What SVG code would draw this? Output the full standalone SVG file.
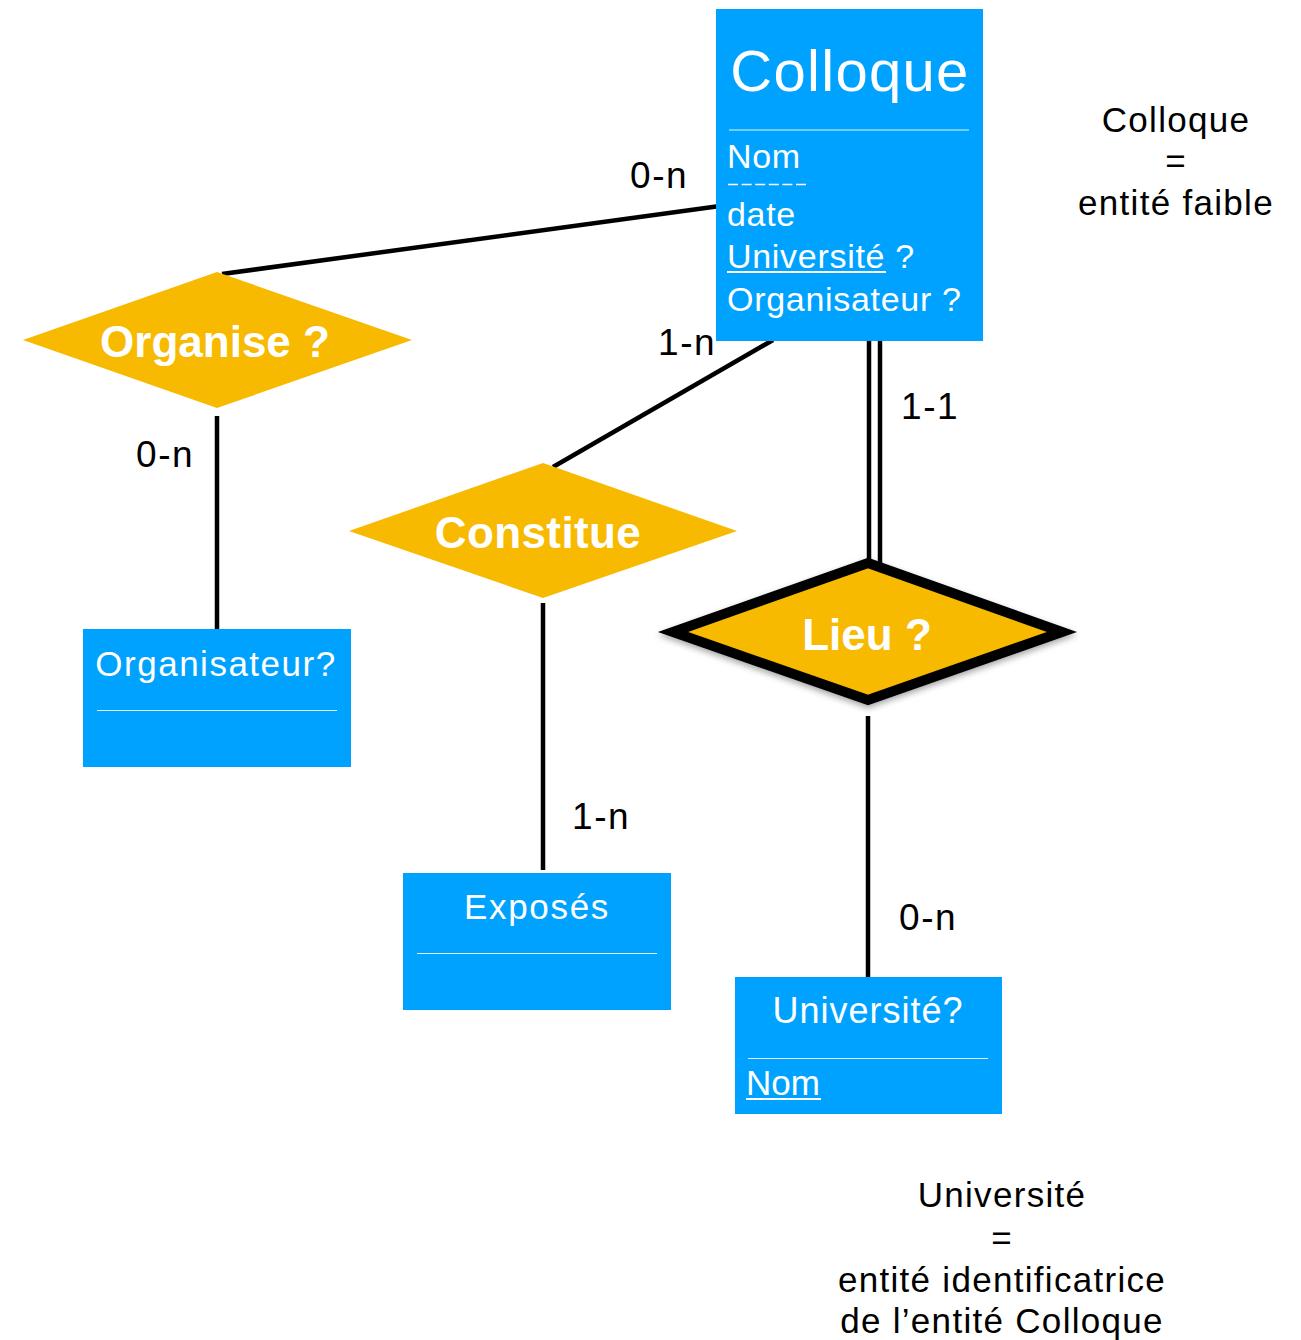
<svg xmlns="http://www.w3.org/2000/svg" width="1301" height="1340" viewBox="0 0 1301 1340">
  <defs>
    <style>
      .ent { fill: #00A2FF; }
      .rel { fill: #F7BA00; }
      .conn { stroke: #000; stroke-width: 4.5; fill: none; }
      .sep { stroke: #ffffff; stroke-width: 1.2; opacity: 0.9; }
      .wt { fill: #ffffff; font-family: "Liberation Sans", Arial, sans-serif; }
      .rt { fill: #ffffff; font-family: "Liberation Sans", Arial, sans-serif; font-weight: bold; font-size: 44px; text-anchor: middle; }
      .lbl { fill: #000; font-family: "Liberation Sans", Arial, sans-serif; font-size: 37px; letter-spacing: 1.6px; }
      .note { fill: #000; font-family: "Liberation Sans", Arial, sans-serif; font-size: 35px; letter-spacing: 1.3px; text-anchor: middle; }
    </style>
    <filter id="shadow" x="-20%" y="-30%" width="140%" height="160%">
      <feDropShadow dx="0" dy="3" stdDeviation="3" flood-color="#000" flood-opacity="0.35"/>
    </filter>
  </defs>

  <rect width="1301" height="1340" fill="#ffffff"/>

  <g id="connectors">
    <line class="conn" x1="222" y1="274" x2="720" y2="206"/>
    <line class="conn" x1="217" y1="416" x2="217" y2="629"/>
    <line class="conn" x1="553" y1="467" x2="773" y2="340"/>
    <line class="conn" x1="543" y1="603" x2="543" y2="870"/>
    <line class="conn" x1="869" y1="336" x2="869" y2="568"/>
    <line class="conn" x1="880" y1="336" x2="880" y2="568"/>
    <line class="conn" x1="868" y1="716" x2="868" y2="977"/>
    <text class="lbl" x="630" y="188">0-n</text>
    <text class="lbl" x="658" y="355">1-n</text>
    <text class="lbl" x="901" y="419">1-1</text>
    <text class="lbl" x="136" y="467">0-n</text>
    <text class="lbl" x="572" y="829">1-n</text>
    <text class="lbl" x="899" y="930">0-n</text>
  </g>

  <g id="colloque">
    <rect class="ent" x="716" y="9" width="267" height="332"/>
    <text class="wt" x="850" y="91" font-size="58" letter-spacing="1.3" text-anchor="middle">Colloque</text>
    <line class="sep" x1="729" y1="130" x2="969" y2="130"/>
    <text class="wt" x="727" y="168" font-size="34" letter-spacing="0.7">Nom</text>
    <line x1="728" y1="184.5" x2="806" y2="184.5" stroke="#fff" stroke-width="1.5" stroke-dasharray="10,3.6"/>
    <text class="wt" x="727" y="226" font-size="34" letter-spacing="0.7">date</text>
    <text class="wt" x="727" y="268" font-size="34" letter-spacing="0.7">Université ?</text>
    <line x1="727" y1="272" x2="886" y2="272" stroke="#fff" stroke-width="2"/>
    <text class="wt" x="727" y="311" font-size="34" letter-spacing="0.7">Organisateur ?</text>
  </g>

  <g id="organise">
    <polygon class="rel" points="217,272 412,340 217,408 23,340"/>
    <text class="rt" x="215" y="357">Organise ?</text>
  </g>

  <g id="constitue">
    <polygon class="rel" points="543,463 737,531 543,598 349,531"/>
    <text class="rt" x="538" y="548" letter-spacing="0.4">Constitue</text>
  </g>

  <g id="lieu">
    <polygon class="rel" points="868,563 1062,632 868,700 673,632" stroke="#000" stroke-width="10" stroke-linejoin="miter" stroke-miterlimit="10" filter="url(#shadow)"/>
    <text class="rt" x="867" y="650">Lieu ?</text>
  </g>

  <g id="organisateur">
    <rect class="ent" x="83" y="629" width="268" height="138"/>
    <text class="wt" x="216" y="676" font-size="35" letter-spacing="1.5" text-anchor="middle">Organisateur?</text>
    <line class="sep" x1="97" y1="710.5" x2="337" y2="710.5"/>
  </g>

  <g id="exposes">
    <rect class="ent" x="403" y="873" width="268" height="137"/>
    <text class="wt" x="537" y="919" font-size="35" letter-spacing="1.7" text-anchor="middle">Exposés</text>
    <line class="sep" x1="417" y1="953.5" x2="657" y2="953.5"/>
  </g>

  <g id="universite">
    <rect class="ent" x="735" y="977" width="267" height="137"/>
    <text class="wt" x="868" y="1023" font-size="36" letter-spacing="1" text-anchor="middle">Université?</text>
    <line class="sep" x1="748" y1="1058.5" x2="988" y2="1058.5"/>
    <text class="wt" x="746" y="1095" font-size="35">Nom</text>
    <line x1="746" y1="1099" x2="821" y2="1099" stroke="#fff" stroke-width="2"/>
  </g>

  <g id="note-colloque">
    <text class="note" x="1176" y="132">Colloque</text>
    <text class="note" x="1176" y="173">=</text>
    <text class="note" x="1176" y="215">entité faible</text>
  </g>

  <g id="note-universite">
    <text class="note" x="1002" y="1207">Université</text>
    <text class="note" x="1002" y="1250">=</text>
    <text class="note" x="1002" y="1292">entité identificatrice</text>
    <text class="note" x="1002" y="1333">de l’entité Colloque</text>
  </g>
</svg>
